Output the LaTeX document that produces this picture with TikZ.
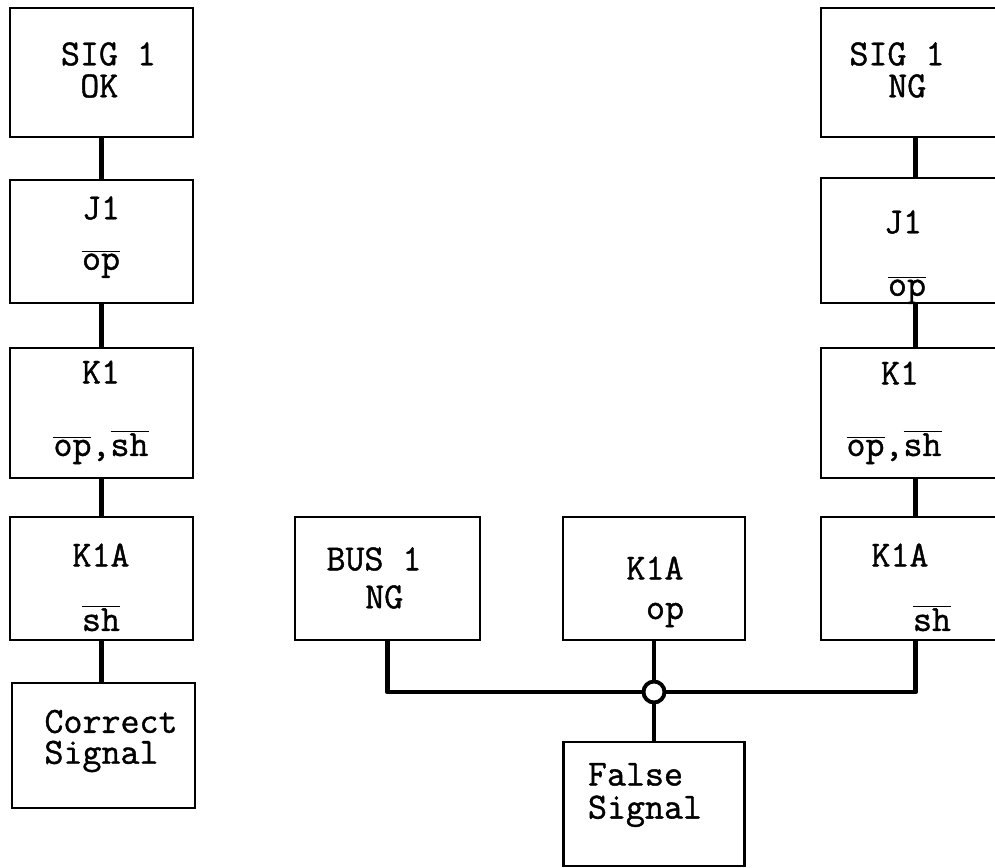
\documentclass[tikz,border=0pt]{standalone}
\usepackage{fontspec}
\newfontface\tw[FakeBold=1.1]{Latin Modern Mono}
\newcommand{\ovl}[1]{\ensuremath{\overline{\hbox{#1}}}}
\begin{document}
\begin{tikzpicture}[x=0.02cm,y=-0.02cm,
  box/.style={draw, line width=1.6pt, inner sep=0pt},
  txt/.style={font=\fontsize{21}{18}\selectfont\tw, inner sep=0pt, anchor=center},
  conn/.style={line width=2.8pt},
  junc/.style={circle, draw, fill=white, line width=2.2pt, minimum size=0.42cm, inner sep=0pt}]
\clip (0,0) rectangle (995,867);
\useasboundingbox (0,0) rectangle (995,867);
% left column
\node[box, minimum width=3.66cm, minimum height=2.58cm] (lsig) at (101.5,72.5) {};
\node[box, minimum width=3.66cm, minimum height=2.46cm] (lj) at (101.5,241.5) {};
\node[box, minimum width=3.66cm, minimum height=2.6cm] (lk) at (101.5,413) {};
\node[box, minimum width=3.66cm, minimum height=2.46cm] (lka) at (101.5,578.5) {};
\node[box, minimum width=3.66cm, minimum height=2.5cm] (lc) at (103.5,745.5) {};
\node[txt, align=left, font=\fontsize{21}{18.2}\selectfont\tw] (t1) at (108.5,70) {SIG 1\\\hspace*{0.525em}OK};
\node[txt] (t3) at (101,208) {J1};
\node[txt] (t4) at (101,264) {\ovl{op}};
\node[txt] (t5) at (101,372) {K1};
\node[txt] (t6) at (101,447) {\ovl{op},\ovl{sh}};
\node[txt] (t7) at (101,555) {K1A};
\node[txt] (t8) at (101,618) {\ovl{sh}};
\node[txt, align=left, font=\fontsize{21}{17.6}\selectfont\tw] (t9) at (111,741) {Correct\\Signal};
\draw[conn] (lsig.south) -- (lj.north);
\draw[conn] (lj.south) -- (lk.north);
\draw[conn] (lk.south) -- (lka.north);
\draw[conn] (lka.south) -- (lka.south |- lc.north);
% right column
\node[box, minimum width=3.78cm, minimum height=2.58cm] (rsig) at (915.5,72.5) {};
\node[box, minimum width=3.78cm, minimum height=2.5cm] (rj) at (915.5,240.5) {};
\node[box, minimum width=3.78cm, minimum height=2.6cm] (rk) at (915.5,413) {};
\node[box, minimum width=3.78cm, minimum height=2.46cm] (rka) at (915.5,578.5) {};
\node[txt, align=left, font=\fontsize{21}{18.2}\selectfont\tw] (u1) at (897,70) {SIG 1\\\hspace*{1.05em}NG};
\node[txt] (u3) at (903,222) {J1};
\node[txt] (u4) at (907,290) {\ovl{op}};
\node[txt] (u5) at (900,373) {K1};
\node[txt] (u6) at (894,447) {\ovl{op},\ovl{sh}};
\node[txt] (u7) at (900,555) {K1A};
\node[txt] (u8) at (932,618) {\ovl{sh}};
\draw[conn] (rsig.south) -- (rj.north);
\draw[conn] (rj.south) -- (rk.north);
\draw[conn] (rk.south) -- (rka.north);
% middle
\node[box, minimum width=3.7cm, minimum height=2.46cm] (bus) at (387.5,578.5) {};
\node[box, minimum width=3.64cm, minimum height=2.46cm] (kop) at (654,578.5) {};
\node[box, minimum width=3.62cm, minimum height=2.48cm] (fs) at (654,804) {};
\node[txt, align=left, font=\fontsize{21}{21.6}\selectfont\tw] (v1) at (374,578) {BUS 1\\\hspace*{1.05em}NG};
\node[txt] (v3) at (655,568) {K1A};
\node[txt] (v4) at (665,615) {op};
\node[txt, align=left, font=\fontsize{21}{18.8}\selectfont\tw] (v5) at (645,795) {False\\Signal};
\node[junc] (jn) at (654,692) {};
\draw[conn, line join=round] (bus.south) -- (bus.south |- jn) -- (jn);
\draw[conn, line join=round] (rka.south) -- (rka.south |- jn) -- (jn);
\draw[conn] (kop.south) -- (jn);
\draw[conn] (jn) -- (fs.north);
\end{tikzpicture}
\end{document}
